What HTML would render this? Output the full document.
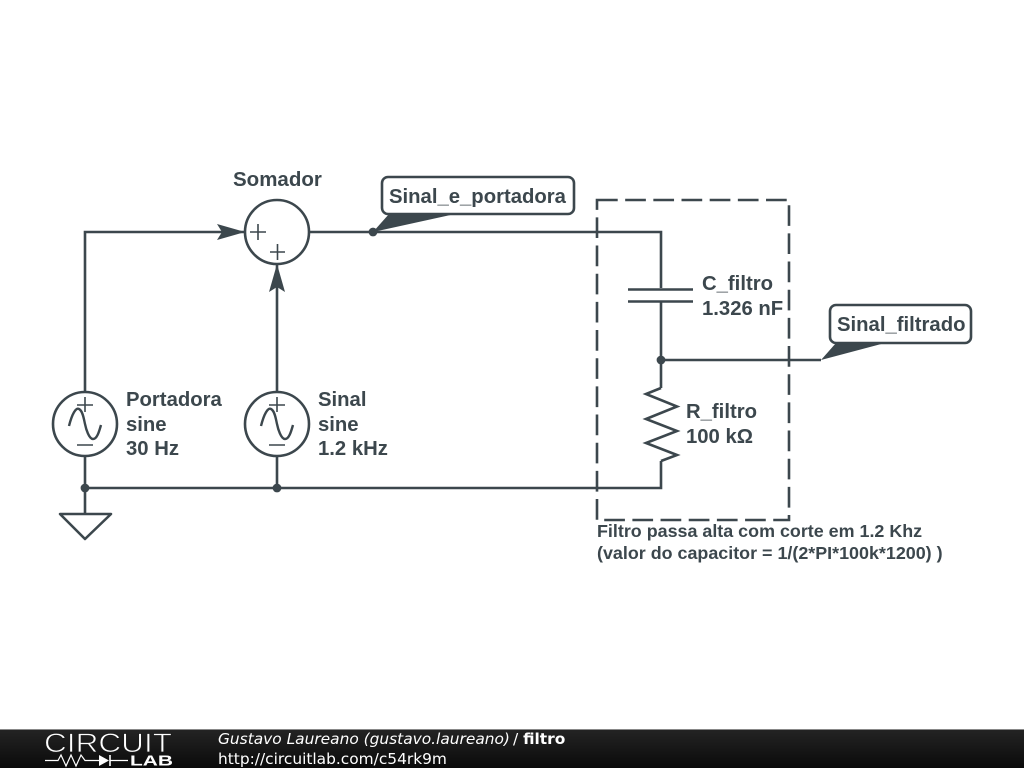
<!DOCTYPE html>
<html><head><meta charset="utf-8"><style>
html,body{margin:0;padding:0;background:#fff}
svg{display:block;width:1024px;height:768px}
.l{font-family:"Liberation Sans",Arial,sans-serif;font-weight:bold;font-size:20.3px;fill:#3c474d}
.s{font-size:17.9px}
.f{font-family:"DejaVu Sans",sans-serif;font-size:15.4px;fill:#fff}
</style></head><body>
<svg xmlns="http://www.w3.org/2000/svg" width="1024" height="768" viewBox="0 0 1024 768">
<defs><linearGradient id="g" x1="0" y1="0" x2="0" y2="1"><stop offset="0" stop-color="#242424"/><stop offset="1" stop-color="#0a0a0a"/></linearGradient></defs>
<rect width="1024" height="768" fill="#fff"/>
<g fill="none" stroke="#3c474d" stroke-width="2.6">
<path d="M85 392V232H245"/>
<path d="M277 392V264"/>
<path d="M309 232H661V288"/>
<path d="M661 301V388"/>
<path d="M661 360H821"/>
<path d="M85 456V514"/>
<path d="M277 456V488"/>
<path d="M85 488H661V461"/>
<path d="M628 289.500H693M628 301.500H693"/>
<path d="M661 388L646 394L677 406.500L646 419L677 431L646 443L677 455L661 461" stroke-linejoin="miter"/>
<path d="M60 514H111L85 539Z" stroke-linejoin="round"/>
<circle cx="277" cy="232" r="32"/>
<circle cx="85" cy="424" r="32"/>
<circle cx="277" cy="424" r="32"/>
<path d="M597 200H789V520H597Z" stroke-dasharray="20.700 7.470"/>
</g>
<g fill="none" stroke="#3c474d" stroke-width="1.600">
<path d="M250 232H266M258 224V240"/>
<path d="M270 252H285M277.500 244V260"/>
<path d="M77 405H93M85 397V412M77 445H93"/>
<path d="M269 405H285M277 397V412M269 445H285"/>
<path d="M69 426C72 414 76 407 79 409C83 411 84 420 85 424C86 429 89 439 93 439C97 439 99 432 101 425" stroke-width="2.400"/>
<path d="M261 426C264 414 268 407 271 409C275 411 276 420 277 424C278 429 281 439 285 439C289 439 291 432 293 425" stroke-width="2.400"/>
</g>
<g fill="#3c474d">
<path d="M217 224L245 232L217 240L222 232Z"/>
<path d="M269 292L277 264L285 292L277 287Z"/>
<circle cx="85" cy="488" r="4.400"/>
<circle cx="277" cy="488" r="4.400"/>
<circle cx="373" cy="232" r="4.400"/>
<circle cx="661" cy="360" r="4.400"/>
<path d="M373 232L389 214H455Z"/>
<path d="M821 360L836 343H885Z"/>
</g>
<rect x="382" y="177" width="192" height="37" rx="6" fill="#fff" stroke="#3c474d" stroke-width="2.600"/>
<rect x="830" y="305" width="141" height="38" rx="6" fill="#fff" stroke="#3c474d" stroke-width="2.600"/>
<g class="l">
<text x="233" y="186" class="l" style="font-size:20.500px">Somador</text>
<text x="389" y="203" class="l">Sinal_e_portadora</text>
<text x="837" y="331" class="l">Sinal_filtrado</text>
<text x="702" y="290" class="l">C_filtro</text>
<text x="702" y="315" class="l">1.326 nF</text>
<text x="686" y="418" class="l">R_filtro</text>
<text x="686" y="443" class="l">100 kΩ</text>
<text x="126" y="406" class="l">Portadora</text>
<text x="126" y="431" class="l">sine</text>
<text x="126" y="455" class="l">30 Hz</text>
<text x="318" y="406" class="l">Sinal</text>
<text x="318" y="431" class="l">sine</text>
<text x="318" y="455" class="l">1.2 kHz</text>
<text x="597" y="537" class="l s">Filtro passa alta com corte em 1.2 Khz</text>
<text x="597" y="559" class="l s">(valor do capacitor = 1/(2*PI*100k*1200) )</text>
</g>
<rect y="729" width="1024" height="39" fill="url(#g)"/>
<rect y="729" width="1024" height="1" fill="#888"/>
<text x="44" y="752" font-family="'Liberation Sans',sans-serif" font-size="26.500" fill="#fff" stroke="#1c1c1c" stroke-width="0.800" textLength="128" lengthAdjust="spacingAndGlyphs">CIRCUIT</text>
<path d="M45 760.500H58L61 755L66 766L71 755L76 766L81 755L85 760.500H99M110 760.500H128" fill="none" stroke="#fff" stroke-width="1.200"/>
<path d="M99 755L109 760.500L99 766Z" fill="#fff"/>
<path d="M110 755V766" stroke="#fff" stroke-width="1.600"/>
<text x="130" y="765.500" font-family="'Liberation Sans',sans-serif" font-size="14.500" font-weight="bold" fill="#fff" textLength="43" lengthAdjust="spacingAndGlyphs">LAB</text>
<text x="218" y="744" class="f" font-style="italic">Gustavo Laureano (gustavo.laureano)</text>
<text x="513" y="744" class="f">/ <tspan font-weight="bold">filtro</tspan></text>
<text x="218" y="764" class="f">http://circuitlab.com/c54rk9m</text>
</svg>
</body></html>
